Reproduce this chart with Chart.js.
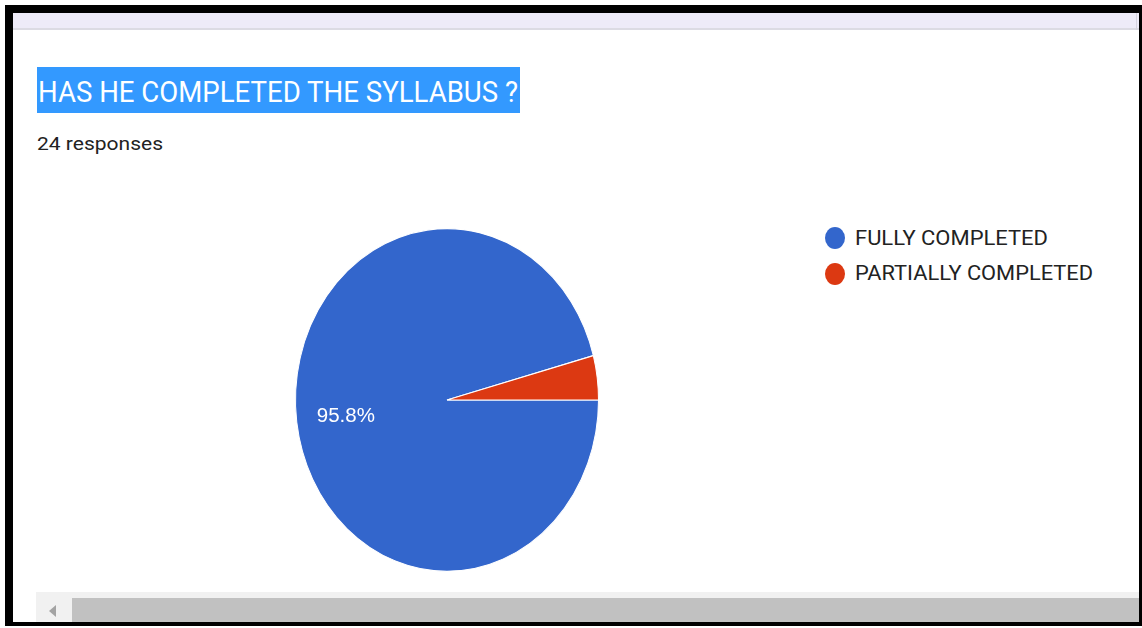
<!DOCTYPE html>
<html>
<head>
<meta charset="utf-8">
<script src="https://cdn.jsdelivr.net/npm/chart.js@4"></script>
<style>
html, body { margin: 0; padding: 0; background: #fff; width: 1142px; height: 628px; overflow: hidden; font-family: Roboto, Arial, sans-serif; }
.abs { position: absolute; }
.txt { position: absolute; white-space: nowrap; line-height: 1; transform-origin: 0 0; display: inline-block; }
.dot { position: absolute; width: 20px; height: 22px; border-radius: 50%; }
</style>
</head>
<body>
<!-- frame -->
<div class="abs" style="left:13px;top:13px;width:1126px;height:15px;background:#eeebf8"></div>
<div class="abs" style="left:13px;top:28px;width:1126px;height:2px;background:#dcdbe3"></div>
<div class="abs" style="left:1136px;top:13px;width:1px;height:17px;background:#d6d4e0"></div>
<div class="abs" style="left:5px;top:5px;width:1137px;height:8px;background:#000"></div>
<div class="abs" style="left:5px;top:5px;width:8px;height:621px;background:#000"></div>
<div class="abs" style="left:1139px;top:5px;width:3px;height:621px;background:#000"></div>
<div class="abs" style="left:5px;top:622px;width:1137px;height:4px;background:#000"></div>

<!-- header -->
<div class="abs" style="left:37px;top:67px;width:483px;height:46px;background:#3399ff"></div>
<span class="txt" id="title" style="left:38px;top:77.5px;font-size:29px;color:#fff">HAS HE COMPLETED THE SYLLABUS ?</span>
<span class="txt" id="count" style="left:37px;top:135px;font-size:18.7px;color:#222"></span>

<!-- pie -->
<canvas id="pie" class="abs" width="320" height="360" style="left:287px;top:220px"></canvas>
<div id="legend"></div>

<!-- scrollbar -->
<div class="abs" style="left:36px;top:592px;width:1103px;height:30px;background:#f1f1f1"></div>
<div class="abs" style="left:72px;top:598px;width:1067px;height:24px;background:#c1c1c1"></div>
<div class="abs" style="left:49px;top:605px;width:0;height:0;border-top:6px solid transparent;border-bottom:6px solid transparent;border-right:7px solid #a3a3a3"></div>

<script>
const labels = ["FULLY COMPLETED", "PARTIALLY COMPLETED"];
const responses = [23, 1];
const sliceColors = ["#3366cc", "#dc3912"];
const totalResponses = 24;

const stretchY = 1.131; // the screenshot's pie is taller than wide
const labelRadius = 0.6735;

const fitText = (el, width) => {
    el.style.transform = "scaleX(" + (width / el.getBoundingClientRect().width) + ")";
};

document.getElementById("count").textContent = totalResponses + " responses";

const squash = {
    id: "squash",
    beforeDatasetsDraw(chart) {
        const arc = chart.getDatasetMeta(0).data[0];
        const ctx = chart.ctx;
        ctx.save();
        ctx.translate(arc.x, arc.y);
        ctx.scale(1, stretchY);
        ctx.translate(-arc.x, -arc.y);
    },
    afterDatasetsDraw(chart) {
        const ctx = chart.ctx;
        ctx.restore();
        const values = chart.data.datasets[0].data;
        const sum = values.reduce((a, b) => a + b, 0);
        ctx.save();
        ctx.fillStyle = "#fff";
        ctx.font = "20.5px 'Liberation Sans', Arial, sans-serif";
        ctx.textAlign = "center";
        ctx.textBaseline = "middle";
        chart.getDatasetMeta(0).data.forEach((arc, i) => {
            const share = values[i] / sum;
            if (share < 0.05) return; // google hides labels on thin slices
            const p = arc.getProps(["x", "y", "startAngle", "endAngle", "outerRadius"], true);
            const mid = (p.startAngle + p.endAngle) / 2;
            const x = p.x + Math.cos(mid) * p.outerRadius * labelRadius;
            const y = p.y + Math.sin(mid) * p.outerRadius * labelRadius * stretchY;
            ctx.fillText((share * 100).toFixed(1) + "%", x, y + 1);
        });
        ctx.restore();
    }
};

const chart = new Chart(document.getElementById("pie"), {
    type: "pie",
    data: {
        labels: labels,
        datasets: [{
            data: responses,
            backgroundColor: sliceColors,
            borderColor: "#fff",
            borderWidth: 1,
            clip: false
        }]
    },
    options: {
        responsive: false,
        animation: false,
        devicePixelRatio: 1,
        rotation: 90,
        layout: { padding: 8 },
        plugins: {
            legend: { display: false },
            tooltip: { enabled: false }
        }
    },
    plugins: [squash]
});

// legend built from the chart's own labels and colours
const legend = document.getElementById("legend");
const legendTops = [227.5, 263.2];
const legendWidths = [193, 238];
chart.data.labels.forEach((name, i) => {
    const dot = document.createElement("div");
    dot.className = "dot";
    dot.style.left = "825px";
    dot.style.top = (legendTops[i] - 0.5) + "px";
    dot.style.background = chart.data.datasets[0].backgroundColor[i];
    legend.appendChild(dot);
    const t = document.createElement("span");
    t.className = "txt";
    t.textContent = name;
    t.style.left = "855px";
    t.style.top = legendTops[i] + "px";
    t.style.fontSize = "20px";
    t.style.color = "#222";
    legend.appendChild(t);
    fitText(t, legendWidths[i]);
});

fitText(document.getElementById("title"), 480);
fitText(document.getElementById("count"), 126);
</script>
</body>
</html>
